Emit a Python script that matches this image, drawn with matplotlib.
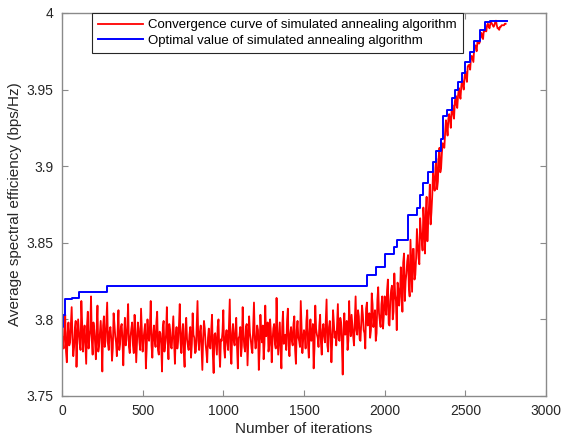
import numpy as np
import matplotlib
matplotlib.use("Agg")
import matplotlib.pyplot as plt
from matplotlib.ticker import FuncFormatter

plt.rcParams['font.family'] = ['Liberation Sans', 'DejaVu Sans']

# red curve: values at iterations 0, 10, 20, ...
sa_curve = [
    3.790, 3.781, 3.803, 3.772, 3.798, 3.785, 3.808, 3.776, 3.794, 3.769,
    3.800, 3.784, 3.812, 3.779, 3.796, 3.771, 3.805, 3.788, 3.815, 3.777,
    3.793, 3.774, 3.809, 3.783, 3.799, 3.766, 3.802, 3.786, 3.811, 3.780,
    3.795, 3.773, 3.804, 3.789, 3.776, 3.806, 3.784, 3.797, 3.770, 3.801,
    3.787, 3.810, 3.778, 3.794, 3.783, 3.803, 3.772, 3.798, 3.785, 3.807,
    3.779, 3.792, 3.768, 3.800, 3.786, 3.812, 3.775, 3.796, 3.782, 3.805,
    3.777, 3.791, 3.766, 3.799, 3.784, 3.808, 3.774, 3.793, 3.781, 3.802,
    3.771, 3.795, 3.786, 3.810, 3.778, 3.797, 3.769, 3.801, 3.783, 3.790,
    3.775, 3.804, 3.788, 3.779, 3.812, 3.780, 3.796, 3.767, 3.799, 3.784,
    3.772, 3.794, 3.781, 3.803, 3.765, 3.791, 3.777, 3.800, 3.769, 3.786,
    3.806, 3.775, 3.793, 3.780, 3.813, 3.771, 3.797, 3.783, 3.801, 3.768,
    3.789, 3.776, 3.808, 3.782, 3.795, 3.770, 3.802, 3.787, 3.778, 3.811,
    3.781, 3.796, 3.767, 3.803, 3.785, 3.774, 3.809, 3.790, 3.779, 3.800,
    3.772, 3.794, 3.784, 3.814, 3.777, 3.798, 3.768, 3.805, 3.788, 3.780,
    3.807, 3.776, 3.795, 3.783, 3.802, 3.771, 3.799, 3.786, 3.812, 3.778,
    3.793, 3.781, 3.806, 3.775, 3.800, 3.787, 3.768, 3.809, 3.790, 3.782,
    3.803, 3.777, 3.797, 3.785, 3.813, 3.779, 3.799, 3.772, 3.806, 3.788,
    3.783, 3.810, 3.786, 3.798, 3.764, 3.804, 3.791, 3.780, 3.812, 3.789,
    3.796, 3.783, 3.815, 3.790, 3.802, 3.786, 3.809, 3.793, 3.781, 3.811,
    3.798, 3.788, 3.817, 3.795, 3.806, 3.791, 3.821, 3.799, 3.810, 3.794,
    3.815, 3.803, 3.826, 3.796, 3.819, 3.800, 3.830, 3.812, 3.824, 3.809,
    3.834, 3.805, 3.843, 3.825, 3.838, 3.821, 3.852, 3.818, 3.846, 3.829,
    3.859, 3.840, 3.866, 3.852, 3.873, 3.843, 3.880, 3.864, 3.888, 3.870,
    3.896, 3.884, 3.905, 3.890, 3.912, 3.899, 3.915, 3.912, 3.930, 3.920,
    3.934, 3.925, 3.940, 3.931, 3.946, 3.938, 3.951, 3.944, 3.957, 3.950,
    3.962, 3.955, 3.966, 3.963, 3.972, 3.968, 3.979, 3.975, 3.981, 3.981,
    3.987, 3.983, 3.988, 3.988, 3.993, 3.990, 3.994, 3.992, 3.992, 3.995,
    3.990, 3.989, 3.991, 3.992, 3.992, 3.993,
]
# red curve, values in between: iterations 5, 15, 25, ...
sa_curve_mid = [
    3.786, 3.795, 3.779, 3.791, 3.783, 3.797, 3.788, 3.782, 3.799, 3.787,
    3.792, 3.780, 3.797, 3.789, 3.784, 3.796, 3.781, 3.793, 3.786, 3.798,
    3.785, 3.794, 3.779, 3.791, 3.787, 3.796, 3.782, 3.799, 3.784, 3.792,
    3.788, 3.781, 3.797, 3.785, 3.793, 3.780, 3.795, 3.786, 3.790, 3.783,
    3.796, 3.782, 3.789, 3.798, 3.778, 3.791, 3.785, 3.794, 3.780, 3.793,
    3.787, 3.797, 3.781, 3.789, 3.795, 3.783, 3.790, 3.786, 3.798, 3.780,
    3.792, 3.784, 3.795, 3.779, 3.790, 3.786, 3.797, 3.782, 3.791, 3.785,
    3.789, 3.781, 3.796, 3.785, 3.791, 3.779, 3.794, 3.787, 3.780, 3.795,
    3.784, 3.790, 3.778, 3.796, 3.786, 3.792, 3.781, 3.788, 3.794, 3.779,
    3.788, 3.782, 3.793, 3.777, 3.790, 3.784, 3.795, 3.780, 3.787, 3.792,
    3.781, 3.789, 3.785, 3.796, 3.779, 3.791, 3.786, 3.793, 3.782, 3.788,
    3.795, 3.783, 3.790, 3.779, 3.797, 3.786, 3.791, 3.781, 3.794, 3.788,
    3.787, 3.793, 3.780, 3.790, 3.796, 3.784, 3.789, 3.798, 3.783, 3.791,
    3.786, 3.797, 3.781, 3.792, 3.788, 3.780, 3.795, 3.784, 3.790, 3.799,
    3.783, 3.791, 3.786, 3.797, 3.780, 3.793, 3.788, 3.782, 3.796, 3.787,
    3.790, 3.799, 3.784, 3.792, 3.786, 3.797, 3.781, 3.794, 3.788, 3.796,
    3.785, 3.793, 3.789, 3.800, 3.783, 3.795, 3.790, 3.786, 3.798, 3.792,
    3.796, 3.787, 3.801, 3.784, 3.793, 3.790, 3.799, 3.786, 3.795, 3.803,
    3.789, 3.800, 3.793, 3.806, 3.787, 3.798, 3.803, 3.791, 3.807, 3.796,
    3.804, 3.793, 3.810, 3.800, 3.786, 3.813, 3.804, 3.795, 3.815, 3.803,
    3.808, 3.819, 3.797, 3.812, 3.822, 3.805, 3.816, 3.793, 3.820, 3.815,
    3.823, 3.837, 3.812, 3.830, 3.842, 3.815, 3.836, 3.846, 3.826, 3.840,
    3.850, 3.836, 3.857, 3.845, 3.862, 3.868, 3.851, 3.874, 3.862, 3.881,
    3.889, 3.899, 3.885, 3.906, 3.896, 3.909, 3.913, 3.922, 3.926, 3.931,
    3.930, 3.936, 3.934, 3.942, 3.940, 3.946, 3.947, 3.952, 3.953, 3.958,
    3.958, 3.965, 3.966, 3.971, 3.970, 3.977, 3.978, 3.981, 3.980, 3.986,
    3.984, 3.989, 3.990, 3.992, 3.991, 3.993, 3.993, 3.991, 3.994, 3.992,
    3.990, 3.991, 3.992, 3.992, 3.993,
]

# blue step curve: iteration where the best value changes, and that value
best_iters = [0, 5, 18, 60, 104, 281, 1888, 1946, 2002, 2060, 2078, 2146, 2202,
              2219, 2240, 2271, 2297, 2318, 2352, 2362, 2386, 2417, 2436, 2455,
              2479, 2498, 2529, 2554, 2591, 2622, 2653, 2756]
best_vals = [3.795, 3.803, 3.813, 3.814, 3.818, 3.822, 3.829, 3.834, 3.843, 3.847,
             3.852, 3.868, 3.873, 3.881, 3.889, 3.896, 3.903, 3.910, 3.918, 3.933,
             3.937, 3.9445, 3.950, 3.955, 3.961, 3.968, 3.9745, 3.982, 3.989, 3.994,
             3.995, 3.995]

# merge the two red lists into one series, every 5 iterations
red = np.empty(len(sa_curve) + len(sa_curve_mid))
red[0::2] = sa_curve
red[1::2] = sa_curve_mid
red_iters = np.arange(len(red)) * 5

fig = plt.figure(figsize=(5.62, 4.42), dpi=100)
ax = fig.add_axes([0.1103, 0.1041, 0.8612, 0.8665])

ax.plot(red_iters, red, color='red', lw=1.3,
        label='Convergence curve of simulated annealing algorithm')
ax.plot(best_iters, best_vals, color='blue', lw=1.4, drawstyle='steps-post',
        label='Optimal value of simulated annealing algorithm')

ax.set_xlim(0, 3000)
ax.set_ylim(3.75, 4.0)
ax.set_xticks(np.arange(0, 3001, 500))
ax.set_yticks([3.75, 3.8, 3.85, 3.9, 3.95, 4.0])
ax.yaxis.set_major_formatter(FuncFormatter(lambda v, p: f"{v:g}"))

for s in ax.spines.values():
    s.set_color('#8a8a8a')
    s.set_linewidth(1.0)
ax.tick_params(direction='in', top=True, right=True, length=4, width=0.8,
               colors='#8a8a8a', labelcolor='#262626', labelsize=10, pad=6)

ax.set_xlabel('Number of iterations', fontsize=11, color='#262626', labelpad=3)
ax.set_ylabel('Average spectral efficiency (bps/Hz)', fontsize=11, color='#262626', labelpad=3)

leg = ax.legend(loc='upper left', bbox_to_anchor=(0.062, 1.0), borderaxespad=0,
                fancybox=False, edgecolor='#262626', fontsize=9.5, handlelength=3.4,
                borderpad=0.45, labelspacing=0.25, handletextpad=0.4, framealpha=1)
leg.get_frame().set_linewidth(0.8)

fig.savefig('out.png', dpi=100)
